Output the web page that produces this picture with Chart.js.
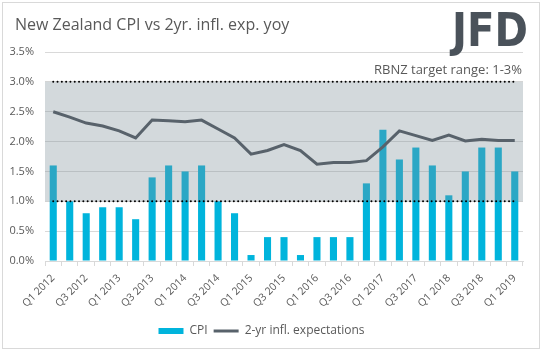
<!DOCTYPE html>
<html>
<head>
<meta charset="utf-8">
<script src="https://cdn.jsdelivr.net/npm/chart.js@4.4.1/dist/chart.umd.min.js"></script>
<style>
  html, body { margin: 0; padding: 0; background: #fff; }
  #wrap { position: relative; width: 543px; height: 352px; }
</style>
</head>
<body>
<div id="wrap"><canvas id="chart-nz-cpi"></canvas></div>
<script>
// quarterly data, Q1 2012 - Q1 2019
const quarters = [
    "Q1 2012", "Q2 2012", "Q3 2012", "Q4 2012",
    "Q1 2013", "Q2 2013", "Q3 2013", "Q4 2013",
    "Q1 2014", "Q2 2014", "Q3 2014", "Q4 2014",
    "Q1 2015", "Q2 2015", "Q3 2015", "Q4 2015",
    "Q1 2016", "Q2 2016", "Q3 2016", "Q4 2016",
    "Q1 2017", "Q2 2017", "Q3 2017", "Q4 2017",
    "Q1 2018", "Q2 2018", "Q3 2018", "Q4 2018",
    "Q1 2019"
];
const cpi = [
    1.6, 1.0, 0.8, 0.9,
    0.9, 0.7, 1.4, 1.6,
    1.5, 1.6, 1.0, 0.8,
    0.1, 0.4, 0.4, 0.1,
    0.4, 0.4, 0.4, 1.3,
    2.2, 1.7, 1.9, 1.6,
    1.1, 1.5, 1.9, 1.9,
    1.5
];
const expectations2y = [
    2.50, 2.41, 2.31, 2.26,
    2.18, 2.06, 2.36, 2.35,
    2.33, 2.36, 2.21, 2.06,
    1.79, 1.85, 1.95, 1.85,
    1.62, 1.65, 1.65, 1.68,
    1.91, 2.18, 2.10, 2.02,
    2.11, 2.01, 2.04, 2.02,
    2.02
];
const targetLow = 1;
const targetHigh = 3;
const yTicks = [0, 0.5, 1, 1.5, 2, 2.5, 3, 3.5];

const textGrey = "#595959";
const font = "'Open Sans', 'Liberation Sans', sans-serif";

// band + frame + title + logo
const extras = {
    id: "extras",
    beforeDraw(chart) {
        const c = chart.ctx;
        c.save();
        c.fillStyle = "#fff";
        c.fillRect(0, 0, chart.width, chart.height);
        c.strokeStyle = "#d9d9d9";
        c.lineWidth = 1;
        c.strokeRect(2.5, 2.5, 537, 346);
        c.restore();
    },
    afterDatasetDraw(chart, args) {
        if (args.index !== 0) return;
        const c = chart.ctx;
        const y = chart.scales.y;
        const a = chart.chartArea;
        const top = y.getPixelForValue(targetHigh);
        const bot = y.getPixelForValue(targetLow);
        c.save();
        c.fillStyle = "rgba(126, 143, 152, 0.34)";
        c.fillRect(a.left, top, a.right - a.left, bot - top);
        c.restore();
    },
    afterDraw(chart) {
        const c = chart.ctx;
        const a = chart.chartArea;
        c.save();
        c.fillStyle = textGrey;
        c.textBaseline = "middle";
        c.font = "16px " + font;
        c.fillText("New Zealand CPI vs 2yr. infl. exp. yoy", 15, 25);
        c.font = "13px " + font;
        c.textAlign = "right";
        c.fillText("RBNZ target range: 1-3%", a.right - 1, 70);

        // logo
        c.textAlign = "left";
        c.textBaseline = "alphabetic";
        c.font = "bold 47px 'DejaVu Sans', sans-serif";
        const w = c.measureText("JFD").width;
        const g = c.createLinearGradient(0, 12, 0, 46);
        g.addColorStop(0, "#4a525a");
        g.addColorStop(1, "#2b3138");
        c.fillStyle = g;
        c.translate(452, 46);
        c.scale(76 / w, 1);
        c.fillText("JFD", 0, 0);
        c.restore();
    }
};

new Chart(document.getElementById("chart-nz-cpi"), {
    type: "bar",
    data: {
        labels: quarters,
        datasets: [{
            label: "CPI",
            data: cpi,
            backgroundColor: "#00b4dc",
            borderWidth: 0,
            barPercentage: 0.43,
            categoryPercentage: 1,
            order: 4
        }, {
            type: "line",
            label: "2-yr infl. expectations",
            data: expectations2y,
            borderColor: "#58626b",
            backgroundColor: "#58626b",
            borderWidth: 3,
            pointRadius: 0,
            tension: 0,
            order: 2
        }, {
            type: "line",
            label: "low",
            data: quarters.map(() => targetLow),
            borderColor: "#000",
            borderWidth: 2,
            borderDash: [0, 4.3],
            borderCapStyle: "round",
            pointRadius: 0,
            order: 1
        }, {
            type: "line",
            label: "high",
            data: quarters.map(() => targetHigh),
            borderColor: "#000",
            borderWidth: 2,
            borderDash: [0, 4.3],
            borderCapStyle: "round",
            pointRadius: 0,
            order: 1
        }]
    },
    options: {
        responsive: true,
        maintainAspectRatio: false,
        animation: false,
        layout: {
            padding: { top: 52, right: 20, left: 0, bottom: 5 }
        },
        scales: {
            x: {
                grid: {
                    offset: true,
                    drawOnChartArea: false,
                    drawTicks: true,
                    tickLength: 5,
                    color: "#d9d9d9"
                },
                border: { color: "#d9d9d9" },
                ticks: {
                    autoSkip: false,
                    minRotation: 45,
                    maxRotation: 45,
                    padding: 6,
                    color: textGrey,
                    font: { family: font, size: 10.5 },
                    callback: function (v, i) {
                        return i % 2 === 0 ? quarters[i] : "";
                    }
                },
                afterFit: function (s) { s.height = 58; }
            },
            y: {
                min: 0,
                max: 3.5,
                afterBuildTicks: function (s) {
                    s.ticks = yTicks.map(v => ({ value: v }));
                },
                grid: { color: "#d9d9d9", drawTicks: false },
                border: { display: false },
                ticks: {
                    padding: 11,
                    color: textGrey,
                    font: { family: font, size: 11 },
                    callback: v => v.toFixed(1) + "%"
                },
                afterFit: function (s) { s.width = 45; }
            }
        },
        plugins: {
            legend: {
                position: "bottom",
                labels: {
                    usePointStyle: true,
                    pointStyleWidth: 25,
                    boxHeight: 6,
                    padding: 6,
                    color: textGrey,
                    font: { family: font, size: 12 },
                    filter: item => item.datasetIndex < 2,
                    generateLabels: function (chart) {
                        const ds = chart.data.datasets;
                        return [{
                            text: ds[0].label,
                            datasetIndex: 0,
                            fillStyle: "#00b4dc",
                            strokeStyle: "#00b4dc",
                            lineWidth: 0,
                            pointStyle: "rect",
                            fontColor: textGrey
                        }, {
                            text: ds[1].label,
                            datasetIndex: 1,
                            fillStyle: "#58626b",
                            strokeStyle: "#58626b",
                            lineWidth: 3,
                            pointStyle: "line",
                            fontColor: textGrey
                        }];
                    }
                }
            },
            tooltip: { enabled: false }
        }
    },
    plugins: [extras]
});
</script>
</body>
</html>
